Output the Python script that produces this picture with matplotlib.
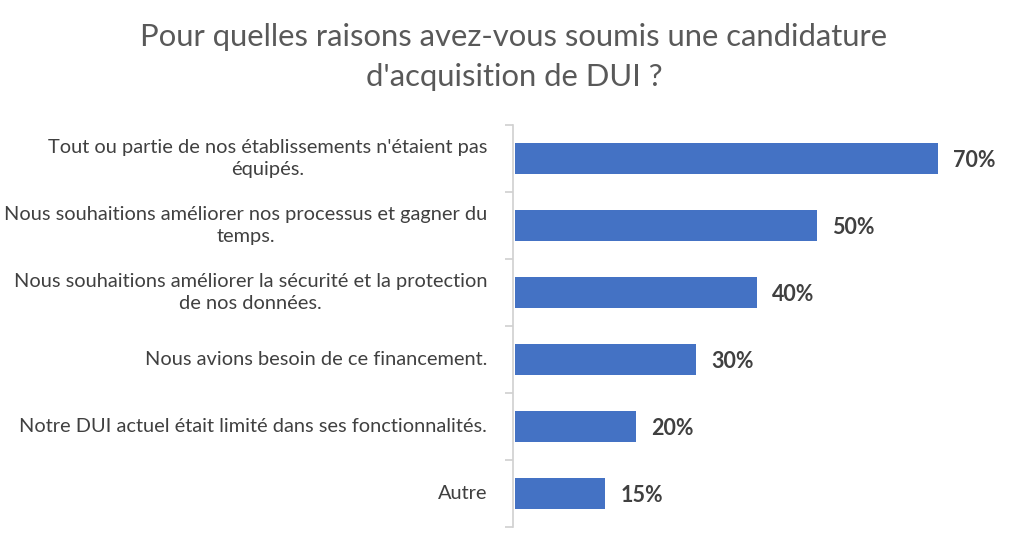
import numpy as np
import matplotlib.pyplot as plt

plt.rcParams['font.family'] = ['Lato', 'DejaVu Sans']

labels = [
    "Tout ou partie de nos établissements n'étaient pas\néquipés.",
    "Nous souhaitions améliorer nos processus et gagner du\ntemps.",
    "Nous souhaitions améliorer la sécurité et la protection\nde nos données.",
    "Nous avions besoin de ce financement.",
    "Notre DUI actuel était limité dans ses fonctionnalités.",
    "Autre",
]
values = [70, 50, 40, 30, 20, 15]

bar_color = '#4472C4'
text_gray = '#404040'

fig = plt.figure(figsize=(10.24, 5.48), dpi=100)
ax = fig.add_axes([513/1024, 1 - 527/548, (1000 - 513)/1024, (527 - 125)/548])

y = np.arange(len(values))
ax.barh(y, values, height=0.45, color=bar_color, left=0.3)
ax.set_ylim(len(values) - 0.5, -0.5)
ax.set_xlim(0, 80.6)

for yi, v in zip(y, values):
    ax.text(v + 2.8, yi + 0.03, "{}%".format(v), va='center', ha='left',
            fontsize=15.5, fontweight='bold', color=text_gray)

ax.set_yticks(np.arange(-0.5, len(values)), minor=False)
ax.set_yticklabels([])
ax.tick_params(axis='y', length=6, color='#d0d0d0', width=1.2, direction='out')
for yi, lab in zip(y, labels):
    ax.text(-0.053, yi, lab, transform=ax.get_yaxis_transform(), ha='right',
            va='center', multialignment='center', fontsize=14.4,
            color=text_gray, linespacing=1.3)

ax.set_xticks([])
for s in ['top', 'right', 'bottom']:
    ax.spines[s].set_visible(False)
ax.spines['left'].set_color('#d0d0d0')
ax.spines['left'].set_linewidth(1.2)

fig.text(0.502, 1 - 57/548, "Pour quelles raisons avez-vous soumis une candidature\nd'acquisition de DUI ?",
         ha='center', va='center', fontsize=22.3, color='#595959', linespacing=1.55)

fig.savefig('out.png', dpi=100)
